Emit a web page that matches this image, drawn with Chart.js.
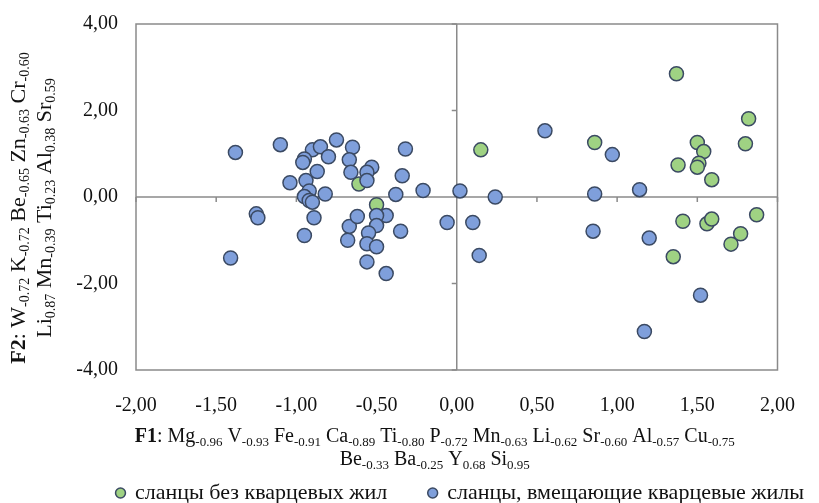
<!DOCTYPE html>
<html lang="ru">
<head>
  <meta charset="UTF-8">
  <title>F1 / F2</title>
  <script src="https://cdn.jsdelivr.net/npm/chart.js"></script>
  <style>
    body {
      margin: 0;
      padding: 0;
      background: #fff;
    }
    .wrap {
      width: 819px;
      height: 503px;
    }
  </style>
</head>
<body>
  <div class="wrap"><canvas id="scatter"></canvas></div>
  <script>
    // сланцы без кварцевых жил
    const greenX = [1.37, 1.82, 0.86, 1.50, 1.54, 1.80, 1.38, 1.51, 1.50, 1.59, 1.41, 1.56, 1.59, 1.87, 1.77, 1.71, 1.35, 0.15, -0.61, -0.50];
    const greenY = [2.85, 1.81, 1.26, 1.26, 1.05, 1.23, 0.74, 0.78, 0.69, 0.40, -0.56, -0.62, -0.51, -0.41, -0.85, -1.09, -1.38, 1.09, 0.30, -0.18];

    // сланцы, вмещающие кварцевые жилы
    const blueX = [-1.38, -1.10, -0.90, -0.85, -0.75, -0.65, -0.32, -0.95, -0.96, -0.80, -0.67, -0.66, -0.87, -0.53,
      -0.56, -0.56, -0.34, -1.04, -0.94, -0.92, -0.82, -0.95, -0.92, -0.90, -0.89, -0.95, -0.67, -0.68,
      -0.38, -0.21, 0.02, 0.24, -0.62, -0.44, -0.50, -0.50, -0.55, -0.35, -0.56, -0.50, -0.56, -0.44,
      -0.06, 0.10, 0.14, -1.25, -1.24, -1.41, 0.55, 0.97, 0.86, 1.14, 0.85, 1.20, 1.52, 1.17];
    const blueY = [1.03, 1.21, 1.09, 1.16, 1.32, 1.15, 1.11, 0.88, 0.80, 0.93, 0.86, 0.57, 0.59, 0.69,
      0.57, 0.38, 0.49, 0.33, 0.38, 0.14, 0.07, 0.01, -0.08, -0.12, -0.48, -0.89, -0.68, -1.00,
      0.06, 0.15, 0.14, 0.00, -0.45, -0.43, -0.43, -0.66, -0.83, -0.79, -1.08, -1.15, -1.50, -1.77,
      -0.59, -0.59, -1.35, -0.39, -0.48, -1.41, 1.53, 0.98, 0.07, 0.17, -0.79, -0.95, -2.27, -3.11];

    const seriesNames = ['сланцы без кварцевых жил', 'сланцы, вмещающие кварцевые жилы'];

    // factor loadings shown in the axis titles
    const f1Line1 = [['Mg', '-0.96'], ['V', '-0.93'], ['Fe', '-0.91'], ['Ca', '-0.89'], ['Ti', '-0.80'], ['P', '-0.72'],
      ['Mn', '-0.63'], ['Li', '-0.62'], ['Sr', '-0.60'], ['Al', '-0.57'], ['Cu', '-0.75']];
    const f1Line2 = [['Be', '-0.33'], ['Ba', '-0.25'], ['Y', '0.68'], ['Si', '0.95']];
    const f2Line1 = [['W', '-0.72'], ['K', '-0.72'], ['Be', '-0.65'], ['Zn', '-0.63'], ['Cr', '-0.60']];
    const f2Line2 = [['Li', '0.87'], ['Mn', '-0.39'], ['Ti', '0.23'], ['Al', '0.38'], ['Sr', '0.59']];

    const serif = '"Liberation Serif", "Times New Roman", serif';
    const legendPad = 42;
    const legendStart = 117;

    function toPoints(xs, ys) {
      return xs.map((x, i) => ({ x: x, y: ys[i] }));
    }

    function richParts(prefix, items) {
      const parts = [];
      if (prefix) {
        parts.push({ t: prefix, bold: true });
        parts.push({ t: ': ' });
      }
      items.forEach((it, i) => {
        parts.push({ t: (i > 0 ? ' ' : '') + it[0] });
        parts.push({ t: it[1], sub: true });
      });
      return parts;
    }

    function drawRich(ctx, parts, cx, cy, size, subSize) {
      let total = 0;
      parts.forEach(p => {
        ctx.font = (p.bold ? 'bold ' : '') + (p.sub ? subSize : size) + 'px ' + serif;
        p.w = ctx.measureText(p.t).width;
        total += p.w;
      });
      let x = cx - total / 2;
      parts.forEach(p => {
        ctx.font = (p.bold ? 'bold ' : '') + (p.sub ? subSize : size) + 'px ' + serif;
        ctx.fillText(p.t, x, cy + (p.sub ? size * 0.27 : 0));
        x += p.w;
      });
    }

    // frame, zero lines with their tick marks, and the axis titles with subscripts
    const decor = {
      id: 'decor',
      afterLayout(chart) {
        const lg = chart.legend;
        const start = (lg.left + legendPad + lg.right - lg.lineWidths[0]) / 2;
        const d = legendStart - start;
        lg.left += d;
        lg.right += d;
      },
      beforeDatasetsDraw(chart) {
        const { ctx, chartArea: a, scales } = chart;
        const x0 = scales.x.getPixelForValue(0);
        const y0 = scales.y.getPixelForValue(0);
        ctx.save();
        ctx.strokeStyle = '#8a8a8a';
        ctx.lineWidth = 1.5;
        ctx.strokeRect(a.left, a.top, a.right - a.left, a.bottom - a.top);
        ctx.beginPath();
        ctx.moveTo(x0, a.top);
        ctx.lineTo(x0, a.bottom);
        ctx.moveTo(a.left, y0);
        ctx.lineTo(a.right, y0);
        scales.x.ticks.forEach(t => {
          const px = scales.x.getPixelForValue(t.value);
          ctx.moveTo(px, y0);
          ctx.lineTo(px, y0 + 5);
        });
        scales.y.ticks.forEach(t => {
          const py = scales.y.getPixelForValue(t.value);
          ctx.moveTo(x0 - 5, py);
          ctx.lineTo(x0, py);
        });
        ctx.stroke();
        ctx.restore();
      },
      afterDraw(chart) {
        const { ctx, chartArea: a } = chart;
        ctx.save();
        ctx.fillStyle = '#111';
        ctx.textBaseline = 'middle';
        const cx = (a.left + a.right) / 2 - 22;
        drawRich(ctx, richParts('F1', f1Line1), cx, 437, 20, 13);
        drawRich(ctx, richParts('', f1Line2), cx, 460, 20, 13);
        ctx.translate(0, 208);
        ctx.rotate(-Math.PI / 2);
        drawRich(ctx, richParts('F2', f2Line1), 0, 19, 22, 14);
        drawRich(ctx, richParts('', f2Line2), 0, 45, 22, 14);
        ctx.restore();
      }
    };

    const commaFmt = v => v.toFixed(2).replace('.', ',');

    new Chart(document.getElementById('scatter'), {
      type: 'scatter',
      data: {
        datasets: [
          {
            label: seriesNames[0],
            data: toPoints(greenX, greenY),
            backgroundColor: '#9fd283',
            borderColor: '#3b4a63',
            borderWidth: 1.5,
            pointRadius: 7,
            pointHoverRadius: 7,
            order: 1
          },
          {
            label: seriesNames[1],
            data: toPoints(blueX, blueY),
            backgroundColor: '#7f9fdb',
            borderColor: '#3b4a63',
            borderWidth: 1.5,
            pointRadius: 7,
            pointHoverRadius: 7,
            order: 0
          }
        ]
      },
      options: {
        responsive: true,
        maintainAspectRatio: false,
        animation: false,
        layout: {
          padding: { left: 0, right: 0, top: 24, bottom: 0 }
        },
        scales: {
          x: {
            min: -2,
            max: 2,
            grid: { display: false, drawTicks: false },
            border: { display: false },
            ticks: {
              stepSize: 0.5,
              padding: 24,
              color: '#111',
              font: { family: serif, size: 20 },
              callback: commaFmt
            },
            afterFit(scale) { scale.height = 70; }
          },
          y: {
            min: -4,
            max: 4,
            grid: { display: false, drawTicks: false },
            border: { display: false },
            ticks: {
              stepSize: 2,
              padding: 18,
              color: '#111',
              font: { family: serif, size: 20 },
              callback: commaFmt
            },
            afterFit(scale) {
              scale.width = 136;
              scale.paddingTop = 10;
              scale.paddingBottom = 10;
            }
          }
        },
        plugins: {
          tooltip: { enabled: false },
          legend: {
            position: 'bottom',
            maxHeight: 63,
            labels: {
              sort: (a, b) => a.datasetIndex - b.datasetIndex,
              usePointStyle: true,
              boxWidth: 7,
              boxHeight: 7,
              padding: legendPad,
              color: '#111',
              font: { family: serif, size: 22 }
            }
          }
        }
      },
      plugins: [decor]
    });
  </script>
</body>
</html>
